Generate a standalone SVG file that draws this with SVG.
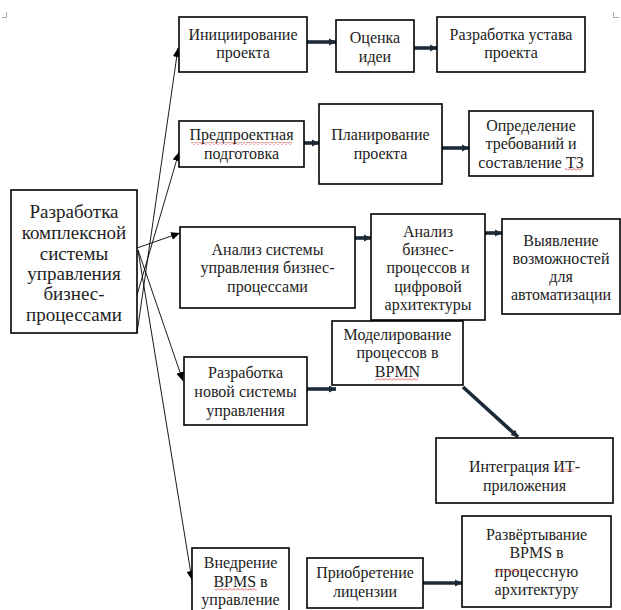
<svg xmlns="http://www.w3.org/2000/svg" width="621" height="610" viewBox="0 0 621 610">
<style>
.box{fill:#fff;stroke:#000;stroke-width:1.6}
.t{font-family:"Liberation Serif","Times New Roman",serif;font-size:16px;fill:#222;text-anchor:middle}
.tm{font-size:19px}
.thin{fill:none;stroke:#000;stroke-width:0.9}
.thick{fill:none;stroke:#1b2a36;stroke-width:3.6}
.mark{fill:none;stroke:#aaa;stroke-width:1}
</style>
<defs>
<marker id="ah" markerUnits="userSpaceOnUse" markerWidth="10" markerHeight="8" refX="9" refY="4" orient="auto">
<path d="M0,0 L9,4 L0,8 Z" fill="#000"/>
</marker>
<marker id="ahk" markerUnits="userSpaceOnUse" markerWidth="8" markerHeight="8" refX="7" refY="4" orient="auto">
<path d="M0,0.5 L7,4 L0,7.5 Z" fill="#1b2a36"/>
</marker>
<pattern id="squig" patternUnits="userSpaceOnUse" width="4" height="3">
<path d="M0,2.5 L2,0.5 L4,2.5" fill="none" stroke="#e03030" stroke-width="0.8"/>
</pattern>
</defs>
<rect width="621" height="610" fill="#fff"/>
<path class="mark" d="M2,17.5 H6.5 V12"/>
<path class="mark" d="M613.5,12 V17.5 H619"/>

<g id="connectors">
<path class="thin" d="M137,333 L178,48" marker-end="url(#ah)"/>
<path class="thin" d="M137,295 L179,152" marker-end="url(#ah)"/>
<path class="thin" d="M137,248 L180,233" marker-end="url(#ah)"/>
<path class="thin" d="M138,250 L183,381" marker-end="url(#ah)"/>
<path class="thin" d="M138,250 L192,580" marker-end="url(#ah)"/>
<path class="thick" d="M307,42 L336,42" marker-end="url(#ahk)"/>
<path class="thick" d="M414,48 L437,48" marker-end="url(#ahk)"/>
<path class="thick" d="M304,143 L319,143" marker-end="url(#ahk)"/>
<path class="thick" d="M442,148 L469,148" marker-end="url(#ahk)"/>
<path class="thick" d="M355,238 L371,238" marker-end="url(#ahk)"/>
<path class="thick" d="M485,233 L502,233" marker-end="url(#ahk)"/>
<path class="thick" d="M307,389 L336,389" marker-end="url(#ahk)"/>
<path class="thick" d="M463,387 L518,437" marker-end="url(#ahk)"/>
<path class="thick" d="M423,583 L462,583" marker-end="url(#ahk)"/>
</g>

<g id="main">
<rect class="box" x="11" y="190" width="126" height="143"/>
<text class="t tm" x="74" y="218">Разработка</text>
<text class="t tm" x="74" y="239">комплексной</text>
<text class="t tm" x="74" y="260">системы</text>
<text class="t tm" x="74" y="280">управления</text>
<text class="t tm" x="74" y="300">бизнес-</text>
<text class="t tm" x="74" y="321">процессами</text>
</g>

<g id="init">
<rect class="box" x="179" y="17" width="128" height="55"/>
<text class="t" x="243" y="40">Инициирование</text>
<text class="t" x="243" y="58">проекта</text>
</g>
<g id="ocenka">
<rect class="box" x="336" y="20" width="78" height="52"/>
<text class="t" x="375" y="43">Оценка</text>
<text class="t" x="375" y="62">идеи</text>
</g>
<g id="ustav">
<rect class="box" x="437" y="17" width="148" height="55"/>
<text class="t" x="511" y="40">Разработка устава</text>
<text class="t" x="511" y="58">проекта</text>
</g>

<g id="predproekt">
<rect class="box" x="179" y="121" width="125" height="46"/>
<text class="t" x="241.5" y="140">Предпроектная</text>
<text class="t" x="241.5" y="159">подготовка</text>
<rect x="191" y="142" width="101" height="3" fill="url(#squig)"/>
</g>
<g id="plan">
<rect class="box" x="319" y="104" width="123" height="80"/>
<text class="t" x="380.5" y="140">Планирование</text>
<text class="t" x="380.5" y="159">проекта</text>
</g>
<g id="opredel">
<rect class="box" x="469" y="111" width="124" height="65"/>
<text class="t" x="531" y="131">Определение</text>
<text class="t" x="531" y="149">требований и</text>
<text class="t" x="531" y="168">составление ТЗ</text>
<rect x="565" y="168" width="17" height="3" fill="url(#squig)"/>
</g>

<g id="analiz-sys">
<rect class="box" x="180" y="227" width="175" height="81"/>
<text class="t" x="267.5" y="255">Анализ системы</text>
<text class="t" x="267.5" y="273">управления бизнес-</text>
<text class="t" x="267.5" y="292">процессами</text>
</g>
<g id="analiz-bp">
<rect class="box" x="371" y="214" width="114" height="106"/>
<text class="t" x="428" y="237">Анализ</text>
<text class="t" x="428" y="255">бизнес-</text>
<text class="t" x="428" y="273">процессов и</text>
<text class="t" x="428" y="292">цифровой</text>
<text class="t" x="428" y="310">архитектуры</text>
</g>
<g id="vyyavl">
<rect class="box" x="502" y="219" width="118" height="95"/>
<text class="t" x="561" y="246">Выявление</text>
<text class="t" x="561" y="264">возможностей</text>
<text class="t" x="561" y="282">для</text>
<text class="t" x="561" y="300">автоматизации</text>
</g>

<g id="model">
<rect class="box" x="332" y="321" width="131" height="64"/>
<text class="t" x="397.5" y="340">Моделирование</text>
<text class="t" x="397.5" y="358">процессов в</text>
<text class="t" x="397.5" y="377">BPMN</text>
<rect x="375" y="378" width="43" height="3" fill="url(#squig)"/>
</g>
<g id="razrab-new">
<rect class="box" x="184" y="357" width="123" height="68"/>
<text class="t" x="245.5" y="378">Разработка</text>
<text class="t" x="245.5" y="397">новой системы</text>
<text class="t" x="245.5" y="416">управления</text>
</g>
<g id="integr">
<rect class="box" x="436" y="438" width="177" height="65"/>
<text class="t" x="524.5" y="472">Интеграция ИТ-</text>
<text class="t" x="524.5" y="491">приложения</text>
<rect x="558" y="469" width="16" height="3" fill="url(#squig)"/>
</g>

<g id="vnedr">
<rect class="box" x="192" y="548" width="97" height="70"/>
<text class="t" x="240.5" y="568">Внедрение</text>
<text class="t" x="240.5" y="587">BPMS в</text>
<text class="t" x="240.5" y="605">управление</text>
<rect x="215" y="588" width="42" height="3" fill="url(#squig)"/>
</g>
<g id="priobr">
<rect class="box" x="307" y="558" width="116" height="50"/>
<text class="t" x="365" y="578">Приобретение</text>
<text class="t" x="365" y="597">лицензии</text>
</g>
<g id="razvert">
<rect class="box" x="462" y="516" width="149" height="91"/>
<text class="t" x="536.5" y="540">Развёртывание</text>
<text class="t" x="536.5" y="558">BPMS в</text>
<text class="t" x="536.5" y="577">процессную</text>
<text class="t" x="536.5" y="595">архитектуру</text>
<rect x="494" y="569" width="29" height="3" fill="url(#squig)"/>
</g>
</svg>
